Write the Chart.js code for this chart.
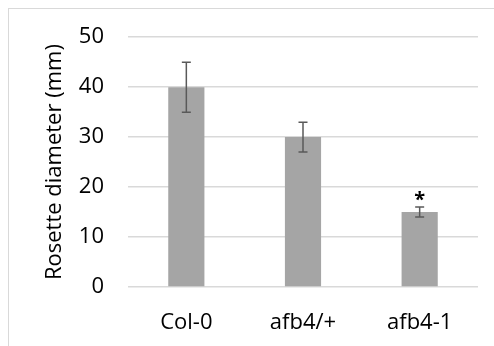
<!DOCTYPE html>
<html>
<head>
<meta charset="utf-8">
<script src="https://cdn.jsdelivr.net/npm/chart.js@4"></script>
<style>
  html, body { margin: 0; padding: 0; background: #fff; }
  #wrap { position: relative; width: 494px; height: 346px; overflow: hidden; }
  #frame { position: absolute; left: 8px; top: 8px; width: 600px; height: 400px;
           border-top: 1px solid #d9d9d9; border-left: 1px solid #d9d9d9; }
  canvas { position: absolute; left: 0; top: 0; }
</style>
</head>
<body>
<div id="wrap">
  <div id="frame"></div>
  <canvas id="myChart" width="494" height="346"></canvas>
</div>
<script>
const ctx = document.getElementById('myChart');

const categories = ['Col-0', 'afb4/+', 'afb4-1'];
const diameter = [40, 30, 15];
const errors = [5, 3, 1];
const marks = ['', '', '*'];
const yTicks = [0, 10, 20, 30, 40, 50];

const FONT = "'Open Sans', sans-serif";

// error bars + significance star
const errorBars = {
  id: 'errorBars',
  afterDatasetsDraw(chart) {
    const c = chart.ctx;
    const x = chart.scales.x, y = chart.scales.y;
    c.save();
    c.strokeStyle = '#595959';
    c.lineWidth = 1.5;
    diameter.forEach((v, i) => {
      const px = x.getPixelForValue(i);
      const top = y.getPixelForValue(v + errors[i]);
      const bot = y.getPixelForValue(v - errors[i]);
      c.beginPath();
      c.moveTo(px, top); c.lineTo(px, bot);
      c.moveTo(px - 4.5, top); c.lineTo(px + 4.5, top);
      c.moveTo(px - 4.5, bot); c.lineTo(px + 4.5, bot);
      c.stroke();
      if (marks[i]) {
        c.fillStyle = '#000';
        c.font = 'bold 20px ' + FONT;
        c.textAlign = 'center';
        c.textBaseline = 'middle';
        c.fillText(marks[i], px, top - 7);
      }
    });
    c.restore();
  }
};

new Chart(ctx, {
  type: 'bar',
  data: {
    labels: categories,
    datasets: [{
      data: diameter,
      backgroundColor: '#a5a5a5',
      barPercentage: 0.31,
      categoryPercentage: 1
    }]
  },
  options: {
    responsive: false,
    animation: false,
    layout: { padding: { top: 37, right: 16, left: 0, bottom: 0 } },
    plugins: { legend: { display: false }, tooltip: { enabled: false } },
    scales: {
      x: {
        grid: { display: false },
        border: { display: false },
        ticks: { color: '#000', font: { family: FONT, size: 22 }, padding: 15 },
        afterFit(s) { s.height = 59; }
      },
      y: {
        min: 0, max: 50,
        afterBuildTicks(s) { s.ticks = yTicks.map(v => ({ value: v })); },
        grid: { color: '#d9d9d9', lineWidth: 1.5, drawTicks: false },
        border: { display: false },
        ticks: { color: '#000', font: { family: FONT, size: 22 }, padding: 24 },
        title: { display: true, text: 'Rosette diameter (mm)', color: '#000',
                 font: { family: FONT, size: 22 }, padding: { top: 42, bottom: 0 } },
        afterFit(s) { s.width = 128; }
      }
    }
  },
  plugins: [errorBars]
});
</script>
</body>
</html>
